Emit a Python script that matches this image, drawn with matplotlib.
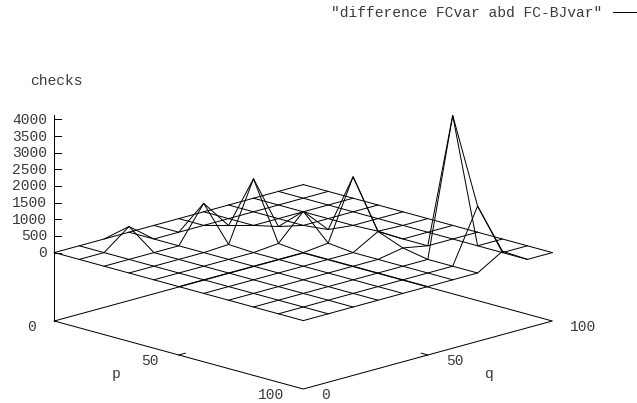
import matplotlib

matplotlib.use("Agg")
import matplotlib.pyplot as plt
import numpy as np

plt.rcParams["font.family"] = ["Liberation Mono", "DejaVu Sans Mono"]

LEGEND_TEXT = '"difference FCvar abd FC-BJvar"'
Z_LABEL = "checks"

p_values = [0, 10, 20, 30, 40, 50, 60, 70, 80, 90, 100]
q_values = [0, 10, 20, 30, 40, 50, 60, 70, 80, 90, 100]
z_ticks = [0, 500, 1000, 1500, 2000, 2500, 3000, 3500, 4000]
z_top = 4120

# checks per (p, q): rows are p, columns are q
checks = np.array(
    [
        [0, 0, 0, 0, 0, 0, 0, 0, 0, 0, 0],
        [0, 0, 580, 0, 0, 0, 0, 0, 0, 0, 0],
        [0, 0, 0, 0, 1070, 200, 0, 0, 0, 0, 0],
        [0, 0, 0, 0, 40, 1810, 170, 0, 0, 0, 0],
        [0, 0, 0, 0, 0, 70, 830, 80, 0, 0, 0],
        [0, 0, 0, 0, 0, 0, 80, 1870, 30, 0, 0],
        [0, 0, 0, 0, 0, 0, 0, 430, 0, 0, 0],
        [0, 0, 0, 0, 0, 0, 0, 140, 0, 0, 0],
        [0, 0, 0, 0, 0, 0, 0, 0, 4120, 0, 0],
        [0, 0, 0, 0, 0, 0, 0, 0, 1600, 0, 0],
        [0, 0, 0, 0, 0, 0, 0, 0, 450, 0, 0],
    ],
    dtype=float,
)

INK = "#3a3a3a"
LW = 0.72
FONT = 10.5


def project(p, q, z=0.0, base=False):
    # gnuplot style view, returned in figure pixels
    p, q, z = np.asarray(p, float), np.asarray(q, float), np.asarray(z, float)
    x = 54.3 + 2.49 * (p + q)
    y = 252.6 + 0.68 * (p - q) - 0.0333 * z
    if base:
        y = y + 68.4
    return x, y


fig = plt.figure(figsize=(6.37, 4.03), dpi=100)
ax = fig.add_axes([0, 0, 1, 1])
ax.set_xlim(0, 637)
ax.set_ylim(403, 0)
ax.axis("off")

# surface mesh
for i, p in enumerate(p_values):
    x, y = project(np.full(len(q_values), p), q_values, checks[i, :])
    ax.plot(x, y, color="black", lw=LW)
for j, q in enumerate(q_values):
    x, y = project(p_values, np.full(len(p_values), q), checks[:, j])
    ax.plot(x, y, color="black", lw=LW)

# base rectangle
x, y = project([0, 100, 100, 0, 0], [0, 0, 100, 100, 0], base=True)
ax.plot(x, y, color="black", lw=LW)

# z axis
x0, y_low = project(0, 0, 0, base=True)
_, y_high = project(0, 0, z_top)
ax.plot([x0, x0], [y_low, y_high], color="black", lw=LW)
for tick in z_ticks:
    _, y = project(0, 0, tick)
    ax.plot([x0, x0 + 6.7], [y, y], color="black", lw=LW)
    ax.text(47, y + 0.5, str(tick), ha="right", va="center", fontsize=FONT, color=INK)

# base ticks
x, y = project([50, 50], [0, 2.6], base=True)
ax.plot(x, y, color="black", lw=LW)
x, y = project([100, 97.4], [50, 50], base=True)
ax.plot(x, y, color="black", lw=LW)

for label, tx, ty in [
    ("0", 31, 327),
    ("50", 150, 361),
    ("100", 271, 395),
    ("0", 326, 395),
    ("50", 455, 361),
    ("100", 583, 327),
    ("p", 116, 374),
    ("q", 489, 374),
]:
    ax.text(tx, ty, label, ha="center", va="center", fontsize=FONT, color=INK)

ax.text(30, 81, Z_LABEL, ha="left", va="center", fontsize=FONT, color=INK)

# key
ax.text(602.5, 13, LEGEND_TEXT, ha="right", va="center", fontsize=FONT, color=INK)
ax.plot([613, 637], [12, 12], color="black", lw=LW)

fig.savefig("out.png", dpi=100)
plt.close(fig)
